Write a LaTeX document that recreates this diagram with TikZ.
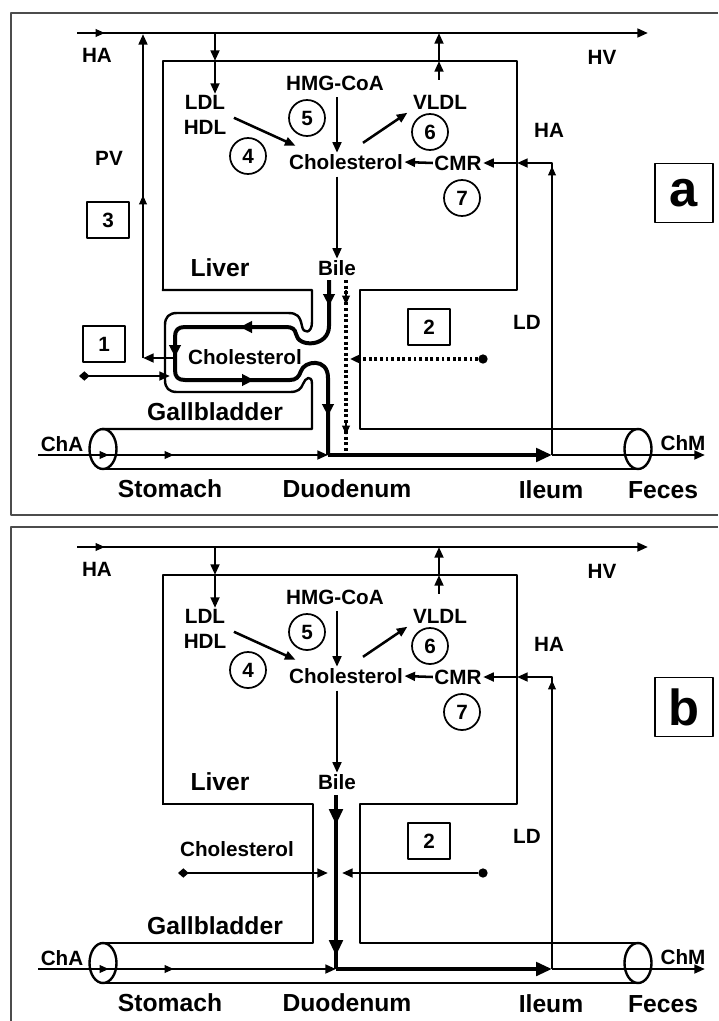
\documentclass[tikz,border=0pt]{standalone}
\usepackage{fontspec}
\setmainfont{Liberation Sans}
\usetikzlibrary{arrows.meta,positioning,calc}
\tikzset{
  lbl/.style   ={font=\fontsize{15.5}{18.5}\selectfont\bfseries, inner sep=1pt},
  biglbl/.style={font=\fontsize{18.5}{22}\selectfont\bfseries, inner sep=1pt},
  num/.style   ={circle, draw, line width=1.3pt, minimum size=27pt, inner sep=0pt,
                 font=\fontsize{15.5}{18.5}\selectfont\bfseries},
  nbox/.style  ={rectangle, draw, line width=1.2pt, minimum width=31.5pt,
                 minimum height=27pt, inner sep=0pt,
                 font=\fontsize{15.5}{18.5}\selectfont\bfseries},
  pbox/.style  ={rectangle, draw, line width=0.9pt, minimum width=43.5pt,
                 minimum height=44pt, inner sep=0pt,
                 font=\fontsize{38}{42}\selectfont\bfseries},
  wall/.style  ={line width=1.8pt, line cap=rect},
  frame/.style ={line width=0.9pt, draw=black!70},
  ar/.style    ={line width=1.9pt, -{Triangle[length=8pt,width=6.5pt]}},
  mtip/.style  ={line width=1.7pt, -{Triangle[length=7pt,width=5.5pt]}},
  dmd/.style   ={line width=1.9pt, {Diamond[length=8pt,width=7pt]}-{Triangle[length=8pt,width=6.5pt]}},
  bile/.style  ={line width=3pt},
  ltip/.style  ={line width=3pt, -{Triangle[length=9pt,width=8.5pt]}},
  btip/.style  ={line width=3.2pt, -{Triangle[length=12pt,width=10pt]}},
  dots/.style  ={line width=2.4pt, dash pattern=on 2.2pt off 2pt}
}
\begin{document}
\begin{tikzpicture}[x=0.75pt, y=-0.75pt, line join=round]
\useasboundingbox (0,0) rectangle (718,1021);

\draw[frame] (718,13) -- (11,13) -- (11,515) -- (718,515);
\draw[frame] (718,527) -- (11,527) -- (11,1021);

% liver, blood and gut are the same in both panels
\foreach \p/\dy/\duox in {a/0/328,b/514/336}{
\begin{scope}[shift={(0,\dy)}]
\coordinate (hain\p) at (77,33);
\coordinate (hvout\p) at (648,33);
\coordinate (hald\p) at (215,33);
\coordinate (ldltop\p) at (215,61);
\coordinate (havl\p) at (439,33);
\coordinate (vltop\p) at (439,61);
\coordinate (ileum\p) at (552,455);
\coordinate (ldtop\p) at (552,163);
\coordinate (hawall\p) at (517,163);
\coordinate (chm\p) at (705,455);
\coordinate (cha\p) at (38,455);
\coordinate (duo\p) at (\duox,455);

\draw[wall] (163,290) -- (163,61) -- (517,61) -- (517,290) -- (360,290)
            -- (360,429) -- (638,429);
\draw[wall] (103,469) -- (638,469);
\draw[wall] (103,449) ellipse [x radius=13.5, y radius=20];
\draw[wall] (638,449) ellipse [x radius=13.5, y radius=20];

\node[lbl] (hmg\p) at (335,83) {HMG-CoA};
\node[lbl, align=center] (ldl\p) at (205,115) {LDL\\HDL};
\node[lbl] (chol\p) at (346,162) {Cholesterol};
\node[lbl] (vldl\p) at (440,102) {VLDL};
\node[lbl] (cmr\p) at (458,163) {CMR};
\node[lbl] (bile\p) at (337,268) {Bile};
\node[num] (cfour\p) at (248,156) {4};
\node[num] (cfive\p) at (307,118) {5};
\node[num] (csix\p) at (430,132) {6};
\node[num] (cseven\p) at (462,198) {7};

\node[lbl] (ha\p) at (97,55) {HA};
\node[lbl] (hv\p) at (602,57) {HV};
\node[lbl] (har\p) at (549,130) {HA};
\node[lbl] (ld\p) at (527,322) {LD};
\node[biglbl] (liver\p) at (220,268) {Liver};
\node[biglbl] (gb\p) at (215,412) {Gallbladder};
\node[biglbl] (stom\p) at (170,489) {Stomach};
\node[biglbl] (duod\p) at (347,489) {Duodenum};
\node[biglbl] (ileumlbl\p) at (551,490) {Ileum};
\node[biglbl] (feces\p) at (663,490) {Feces};
\node[lbl] (chalbl\p) at (62,444) {ChA};
\node[lbl] (chmlbl\p) at (683,443) {ChM};
\node[nbox] (two\p) at (429,327) {2};
\node[pbox] (panel\p) at (684,193) {\p};
\node[circle, fill, inner sep=0pt, minimum size=7pt] (dot\p) at (483,359) {};

% blood
\draw[ar] (hain\p) -- (hvout\p);
\draw[mtip] (hain\p) -- (105,33);
\draw[ar] (hald\p) -- (ldltop\p);
\draw[ar] (ldltop\p) -- (ldl\p.north -| ldltop\p);
\draw[ar, shorten <=10pt] (vldl\p.north -| vltop\p) -- (vltop\p);
\draw[ar] (vltop\p) -- (havl\p);
\draw[ar] (ileum\p) -- (ldtop\p) -- (hawall\p);
\draw[mtip] (552,190) -- (552,166);
\draw[ar] (hawall\p) -- (cmr\p.east);

% inside the liver
\draw[ar, shorten <=4pt] (hmg\p.south -| bile\p) -- (chol\p.north -| bile\p);
\draw[ar, shorten <=4pt] (chol\p.south -| bile\p) -- (bile\p.north);
\draw[ar, shorten <=5pt] (ldl\p.east) -- ($(chol\p.north west)+(8,-7)$);
\draw[ar] ($(chol\p.north)+(17,-10)$) -- ($(vldl\p.south west)+(-4,2)$);
\draw[ar] (cmr\p.west) -- (chol\p.east);

% gut
\draw[ar] (cha\p) -- (duo\p);
\draw[mtip] (cha\p) -- (109,455);
\draw[mtip] (150,455) -- (174,455);
\draw[btip] (duo\p) -- (ileum\p);
\draw[ar] (ileum\p) -- (chm\p);
\end{scope}
}

% panel a: gallbladder
\draw[wall] (163,290) -- (312,290) -- (312,322)
  .. controls (312,334) and (303,334) .. (302,326)
  .. controls (300,316) and (297,313) .. (288,313) -- (177,313)
  .. controls (169,313) and (165,317) .. (165,325) -- (165,380)
  .. controls (165,388) and (169,392) .. (177,392) -- (290,392)
  .. controls (298,392) and (301,389) .. (303,384)
  .. controls (305,378) and (312,374) .. (312,384) -- (312,429) -- (103,429);
\draw[bile] (329,280) -- (329,326)
  .. controls (329,347) and (298,348) .. (296,334)
  .. controls (295,329) and (292,327) .. (286,327) -- (185,327)
  .. controls (178,327) and (175,330) .. (175,337) -- (175,370)
  .. controls (175,377) and (178,380) .. (185,380) -- (290,380)
  .. controls (296,380) and (299,377) .. (301,371)
  .. controls (304,361) and (328,357) .. (328,378) -- (duoa);
\draw[ltip] (329,288) -- (329,306);
\draw[ltip] (262,327) -- (240,327);
\draw[ltip] (175,340) -- (175,357);
\draw[ltip] (230,380) -- (254,380);
\draw[ltip] (328,395) -- (328,416);

\node[lbl] (cholgb) at (245,357) {Cholesterol};
\node[lbl] (pv) at (109,158) {PV};
\node[nbox] (three) at (108,220) {3};
\node[nbox] (one) at (104,344) {1};
\coordinate (gbout) at (175,358);
\coordinate (pvbot) at (143,358);
\coordinate (pvtop) at (143,34);
\coordinate (gbin) at (79,376);
\coordinate (gbwall) at (170,376);
\draw[ar] (gbout) -- (pvbot);
\draw[ar] (pvbot) -- (pvtop);
\draw[mtip] (143,218) -- (143,195);
\draw[dmd] (gbin) -- (gbwall);

\draw[dots] (346,280) -- (346,455);
\draw[mtip] (346,290) -- (346,305);
\draw[mtip] (346,420) -- (346,435);
\coordinate (ducta) at (350,359);
\draw[dots, -{Triangle[length=7pt,width=6pt]}] (dota) -- (ducta);

% panel b: no gallbladder
\begin{scope}[shift={(0,514)}]
\draw[wall] (163,290) -- (313,290) -- (313,429) -- (103,429);
\node[lbl] (cholgbb) at (237,335) {Cholesterol};
\coordinate (gbinb) at (178,359);
\coordinate (ductlb) at (328,359);
\coordinate (ductrb) at (342,359);
\coordinate (bileinb) at (336,281);
\draw[dmd] (gbinb) -- (ductlb);
\draw[ar] (dotb) -- (ductrb);
\draw[bile] (bileinb) -- (duob);
\draw[btip] (336,290) -- (336,311);
\draw[btip] (336,420) -- (336,442);
\end{scope}
\end{tikzpicture}
\end{document}
